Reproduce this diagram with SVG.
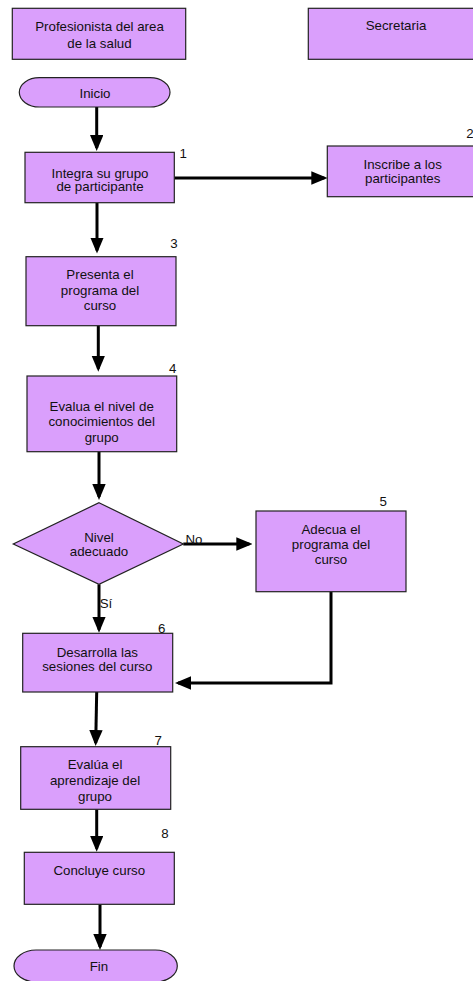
<svg xmlns="http://www.w3.org/2000/svg" width="473" height="981" viewBox="0 0 473 981">
<style>
.box{fill:#DA9FFC;stroke:#222;stroke-width:1.2}
.t{font-family:"Liberation Sans",Arial,sans-serif;font-size:13.3px;fill:#111;text-anchor:middle}
.n{font-family:"Liberation Sans",Arial,sans-serif;font-size:13.3px;fill:#111;text-anchor:middle}
.c{fill:none;stroke:#000;stroke-width:3}
</style>
<defs>
<marker id="ah" markerUnits="userSpaceOnUse" markerWidth="16" markerHeight="14" refX="13" refY="6.7" orient="auto">
<path d="M0,0 L16,6.7 L0,13.4 z" fill="#000"/>
</marker>
</defs>
<rect width="473" height="981" fill="#fff"/>
<g id="connectors">
<line class="c" x1="96.7" y1="107" x2="96.7" y2="148" marker-end="url(#ah)"/>
<line class="c" x1="174.3" y1="178" x2="324.3" y2="178" marker-end="url(#ah)"/>
<line class="c" x1="97" y1="202.7" x2="97" y2="250.5" marker-end="url(#ah)"/>
<line class="c" x1="98.3" y1="325.7" x2="98.3" y2="368.7" marker-end="url(#ah)"/>
<line class="c" x1="99" y1="451.7" x2="99" y2="497" marker-end="url(#ah)"/>
<line class="c" x1="183.3" y1="544" x2="249.3" y2="544" marker-end="url(#ah)"/>
<line class="c" x1="99" y1="584.3" x2="99" y2="629.7" marker-end="url(#ah)"/>
<polyline class="c" points="331,591.7 331,683 178,683" marker-end="url(#ah)"/>
<line class="c" x1="96.7" y1="692" x2="95.7" y2="743" marker-end="url(#ah)"/>
<line class="c" x1="96.7" y1="809.3" x2="96.7" y2="848.7" marker-end="url(#ah)"/>
<line class="c" x1="100" y1="904.3" x2="100" y2="947" marker-end="url(#ah)"/>
<text class="t" x="194" y="543.5">No</text>
<text class="t" x="106" y="607.5">Sí</text>
</g>
<g id="hdr1">
<rect class="box" x="12.3" y="8.3" width="173.4" height="51"/>
<text class="t" x="99.5" y="30.8">Profesionista del area</text>
<text class="t" x="99.5" y="47.8">de la salud</text>
</g>
<g id="hdr2">
<rect class="box" x="308.3" y="8.3" width="176" height="51"/>
<text class="t" x="396" y="29.8">Secretaria</text>
</g>
<g id="inicio">
<rect class="box" x="19.3" y="77.7" width="150.7" height="29.3" rx="20" ry="14.65"/>
<text class="t" x="95" y="97.5">Inicio</text>
</g>
<g id="n1">
<rect class="box" x="25" y="152.3" width="149.3" height="50.4"/>
<text class="t" x="100" y="177.5">Integra su grupo</text>
<text class="t" x="100" y="190.8">de participante</text>
<text class="n" x="183.3" y="157.5">1</text>
</g>
<g id="n2">
<rect class="box" x="327.3" y="146" width="151" height="50.7"/>
<text class="t" x="402.7" y="168.8">Inscribe a los</text>
<text class="t" x="402.7" y="183.1">participantes</text>
<text class="n" x="470" y="137.8">2</text>
</g>
<g id="n3">
<rect class="box" x="26" y="256.7" width="150" height="69"/>
<text class="t" x="100" y="279">Presenta el</text>
<text class="t" x="100" y="294.7">programa del</text>
<text class="t" x="100" y="310.4">curso</text>
<text class="n" x="174" y="247.5">3</text>
</g>
<g id="n4">
<rect class="box" x="27" y="376" width="149.7" height="75.7"/>
<text class="t" x="101.7" y="410.5">Evalua el nivel de</text>
<text class="t" x="101.7" y="426.3">conocimientos del</text>
<text class="t" x="101.7" y="441.5">grupo</text>
<text class="n" x="172.7" y="373">4</text>
</g>
<g id="dec">
<polygon class="box" points="99,502.7 183.3,544 99,584.3 13.3,544"/>
<text class="t" x="99" y="541.5">Nivel</text>
<text class="t" x="99" y="555.8">adecuado</text>
</g>
<g id="n5">
<rect class="box" x="256" y="511" width="150" height="80.7"/>
<text class="t" x="331" y="533.8">Adecua el</text>
<text class="t" x="331" y="548.8">programa del</text>
<text class="t" x="331" y="564.1">curso</text>
<text class="n" x="383.3" y="505.5">5</text>
</g>
<g id="n6">
<rect class="box" x="22.7" y="633.3" width="150" height="58.7"/>
<text class="t" x="97.3" y="656.5">Desarrolla las</text>
<text class="t" x="97.3" y="670.8">sesiones del curso</text>
<text class="n" x="161.7" y="633">6</text>
</g>
<g id="n7">
<rect class="box" x="20.7" y="746.7" width="150" height="62.6"/>
<text class="t" x="95" y="769.1">Evalúa el</text>
<text class="t" x="95" y="784.8">aprendizaje del</text>
<text class="t" x="95" y="800.8">grupo</text>
<text class="n" x="158.3" y="744.7">7</text>
</g>
<g id="n8">
<rect class="box" x="24.3" y="852.3" width="150" height="52"/>
<text class="t" x="99.3" y="874.8">Concluye curso</text>
<text class="n" x="165" y="838">8</text>
</g>
<g id="fin">
<rect class="box" x="14" y="950" width="163.3" height="32" rx="22" ry="16"/>
<text class="t" x="99" y="970.5">Fin</text>
</g>
</svg>
